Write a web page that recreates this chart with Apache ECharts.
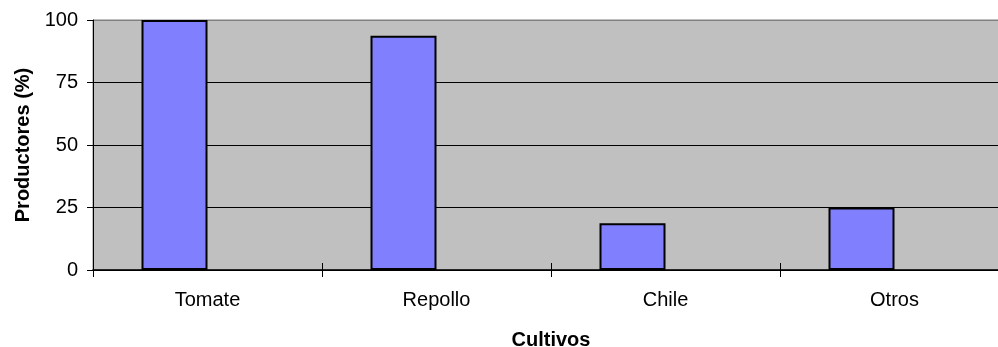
<!DOCTYPE html>
<html>
<head>
<meta charset="utf-8">
<style>
  html, body { margin: 0; padding: 0; background: #ffffff; }
  #chart { width: 998px; height: 347px; }
</style>
<script src="https://cdn.jsdelivr.net/npm/echarts@6/dist/echarts.min.js"></script>
</head>
<body>
<div id="chart"></div>
<script>
// Share of producers growing each crop
const cultivos = ['Tomate', 'Repollo', 'Chile', 'Otros'];
const productores = [100, 93.75, 18.75, 25];
// empty companion series that keeps each bar left of its category centre
const vacio = [null, null, null, null];
const yTicks = [0, 25, 50, 75, 100];

const FONT = '"Liberation Sans", Arial, sans-serif';

const chart = echarts.init(document.getElementById('chart'), null, { renderer: 'canvas' });

chart.setOption({
  animation: false,
  backgroundColor: '#ffffff',
  grid: {
    left: 93, top: 20, width: 916, height: 250,
    containLabel: false,
    outerBoundsMode: 'none',
    show: true,
    backgroundColor: '#C0C0C0',
    borderColor: '#808080',
    borderWidth: 1
  },
  xAxis: [
    {
      type: 'category',
      data: cultivos,
      boundaryGap: true,
      name: 'Cultivos',
      nameLocation: 'middle',
      nameGap: 60,
      nameTextStyle: { fontFamily: FONT, fontSize: 20, fontWeight: 'bold', color: '#000' },
      axisLine: { show: true, lineStyle: { color: '#000', width: 1.5 } },
      axisTick: { show: true, alignWithLabel: false, length: 7, lineStyle: { color: '#000' } },
      axisLabel: { fontFamily: FONT, fontSize: 20, color: '#000', margin: 20 },
      splitLine: { show: false }
    },
    {
      // inner half of the crossing tick marks
      type: 'category',
      data: cultivos,
      position: 'bottom',
      boundaryGap: true,
      axisLine: { show: false },
      axisTick: { show: true, inside: true, length: 7, lineStyle: { color: '#000' } },
      axisLabel: { show: false },
      splitLine: { show: false }
    }
  ],
  yAxis: {
    type: 'value',
    min: yTicks[0],
    max: yTicks[yTicks.length - 1],
    interval: 25,
    name: 'Productores (%)',
    nameLocation: 'middle',
    nameGap: 58,
    nameRotate: 90,
    nameTextStyle: { fontFamily: FONT, fontSize: 20, fontWeight: 'bold', color: '#000' },
    axisLine: { show: true, lineStyle: { color: '#000', width: 1 } },
    axisTick: { show: true, length: 6, lineStyle: { color: '#000' } },
    axisLabel: { fontFamily: FONT, fontSize: 20, color: '#000', margin: 15 },
    splitLine: { show: true, lineStyle: { color: ['#000', '#000', '#000', '#000', '#808080'], width: 1 } }
  },
  series: [
    {
      type: 'bar',
      data: productores,
      xAxisIndex: 0,
      barWidth: 66,
      barGap: '0%',
      itemStyle: { color: '#8080FF', borderColor: '#000', borderWidth: 2 }
    },
    {
      type: 'bar',
      data: vacio,
      xAxisIndex: 0,
      barWidth: 66,
      barGap: '0%',
      itemStyle: { color: '#8080FF' }
    }
  ]
});
</script>
</body>
</html>
